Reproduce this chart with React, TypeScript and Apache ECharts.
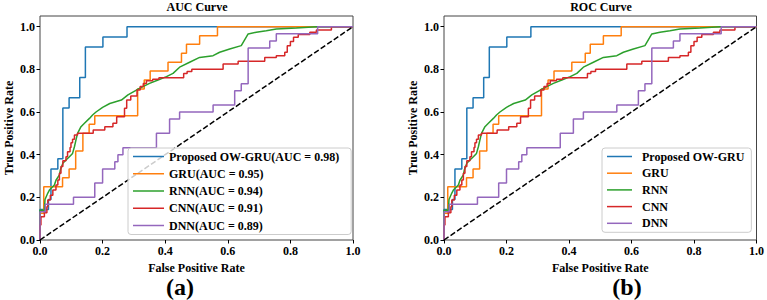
import { useEffect, useRef } from "react";
import * as echarts from "echarts";

// Models, their AUC scores and tick positions
const modelNames = ["Proposed OW-GRU", "GRU", "RNN", "CNN", "DNN"];
const aucScores = [0.98, 0.95, 0.94, 0.91, 0.89];
const tickValues = [0, 0.2, 0.4, 0.6, 0.8, 1.0];

// ROC points (false positive rate / true positive rate) per model
const owGruFpr = [0, 0, 0.027, 0.027, 0.035, 0.035, 0.057, 0.057, 0.073, 0.073, 0.093, 0.093, 0.127, 0.127, 0.145, 0.145, 0.201, 0.201, 0.278, 0.278, 1.0];
const owGruTpr = [0, 0.143, 0.143, 0.19, 0.19, 0.333, 0.333, 0.381, 0.381, 0.619, 0.619, 0.667, 0.667, 0.762, 0.762, 0.905, 0.905, 0.952, 0.952, 1.0, 1.0];

const gruFpr = [0, 0, 0.012, 0.012, 0.072, 0.072, 0.093, 0.093, 0.114, 0.114, 0.137, 0.137, 0.157, 0.157, 0.175, 0.175, 0.312, 0.312, 0.333, 0.333, 0.352, 0.352, 0.409, 0.409, 0.452, 0.452, 0.468, 0.468, 0.51, 0.51, 0.567, 0.567, 1.0];
const gruTpr = [0, 0.125, 0.125, 0.25, 0.25, 0.292, 0.292, 0.333, 0.333, 0.417, 0.417, 0.5, 0.5, 0.542, 0.542, 0.583, 0.583, 0.708, 0.708, 0.75, 0.75, 0.792, 0.792, 0.833, 0.833, 0.875, 0.875, 0.917, 0.917, 0.958, 0.958, 1.0, 1.0];

const rnnFpr = [0, 0, 0.014, 0.016, 0.025, 0.03, 0.046, 0.051, 0.062, 0.065, 0.073, 0.083, 0.094, 0.104, 0.11, 0.115, 0.12, 0.131, 0.142, 0.158, 0.168, 0.179, 0.2, 0.223, 0.26, 0.281, 0.308, 0.329, 0.35, 0.377, 0.404, 0.425, 0.446, 0.478, 0.51, 0.553, 0.574, 0.606, 0.643, 0.665, 0.691, 0.723, 0.755, 0.819, 0.883, 1.0];
const rnnTpr = [0, 0.14, 0.14, 0.19, 0.22, 0.234, 0.258, 0.28, 0.305, 0.328, 0.36, 0.375, 0.39, 0.406, 0.437, 0.469, 0.5, 0.531, 0.547, 0.57, 0.586, 0.6, 0.622, 0.64, 0.656, 0.68, 0.703, 0.719, 0.734, 0.75, 0.766, 0.781, 0.81, 0.833, 0.856, 0.864, 0.88, 0.895, 0.911, 0.966, 0.974, 0.981, 0.989, 0.994, 1.0, 1.0];

const cnnFpr = [0, 0, 0.003, 0.003, 0.014, 0.014, 0.022, 0.022, 0.025, 0.025, 0.033, 0.033, 0.041, 0.041, 0.051, 0.051, 0.057, 0.057, 0.062, 0.062, 0.067, 0.067, 0.073, 0.073, 0.083, 0.083, 0.088, 0.088, 0.096, 0.096, 0.099, 0.099, 0.104, 0.104, 0.11, 0.11, 0.12, 0.12, 0.17, 0.17, 0.207, 0.207, 0.233, 0.233, 0.245, 0.245, 0.27, 0.27, 0.277, 0.277, 0.29, 0.29, 0.31, 0.31, 0.32, 0.32, 0.33, 0.33, 0.34, 0.34, 0.36, 0.36, 0.38, 0.38, 0.459, 0.459, 0.47, 0.47, 0.485, 0.485, 0.585, 0.585, 0.633, 0.633, 0.718, 0.718, 0.755, 0.755, 0.782, 0.782, 0.79, 0.79, 0.8, 0.8, 0.81, 0.81, 0.825, 0.825, 0.862, 0.862, 0.883, 0.883, 0.931, 0.931, 1.0];
const cnnTpr = [0, 0.07, 0.07, 0.109, 0.109, 0.128, 0.128, 0.156, 0.156, 0.188, 0.188, 0.21, 0.21, 0.234, 0.234, 0.258, 0.258, 0.281, 0.281, 0.313, 0.313, 0.344, 0.344, 0.372, 0.372, 0.39, 0.39, 0.414, 0.414, 0.434, 0.434, 0.456, 0.456, 0.472, 0.472, 0.492, 0.492, 0.5, 0.5, 0.516, 0.516, 0.531, 0.531, 0.547, 0.547, 0.578, 0.578, 0.617, 0.617, 0.656, 0.656, 0.675, 0.675, 0.703, 0.703, 0.72, 0.72, 0.734, 0.734, 0.747, 0.747, 0.753, 0.753, 0.76, 0.76, 0.78, 0.78, 0.79, 0.79, 0.8, 0.8, 0.825, 0.825, 0.838, 0.838, 0.856, 0.856, 0.864, 0.864, 0.88, 0.88, 0.91, 0.91, 0.93, 0.93, 0.95, 0.95, 0.963, 0.963, 0.974, 0.974, 0.984, 0.984, 1.0, 1.0];

const dnnFpr = [0, 0, 0.017, 0.017, 0.107, 0.107, 0.175, 0.175, 0.2, 0.2, 0.239, 0.239, 0.249, 0.249, 0.265, 0.265, 0.372, 0.372, 0.414, 0.414, 0.446, 0.446, 0.553, 0.553, 0.622, 0.622, 0.643, 0.643, 0.665, 0.665, 0.734, 0.734, 0.755, 0.755, 0.887, 0.887, 1.0];
const dnnTpr = [0, 0.133, 0.133, 0.167, 0.167, 0.2, 0.2, 0.267, 0.267, 0.333, 0.333, 0.367, 0.367, 0.4, 0.4, 0.433, 0.433, 0.5, 0.5, 0.567, 0.567, 0.6, 0.6, 0.633, 0.633, 0.7, 0.7, 0.733, 0.733, 0.9, 0.9, 0.933, 0.933, 0.967, 0.967, 1.0, 1.0];

// Chance line
const chanceFpr = [0, 1];
const chanceTpr = [0, 1];

const modelFpr = [owGruFpr, gruFpr, rnnFpr, cnnFpr, dnnFpr];
const modelTpr = [owGruTpr, gruTpr, rnnTpr, cnnTpr, dnnTpr];

const lineColors = ["#1f77b4", "#ff7f0e", "#2ca02c", "#d62728", "#9467bd"];
const SERIF = '"Liberation Serif", "Times New Roman", serif';

const zip = (xs: number[], ys: number[]) => xs.map((x, i) => [x, ys[i]]);

const labelFont = {
  fontFamily: SERIF,
  fontWeight: "bold" as const,
  fontSize: 12,
  color: "#000",
};

function xAxisFor(gridIndex: number) {
  return {
    type: "value" as const,
    gridIndex,
    min: 0,
    max: 1,
    interval: 0.2,
    name: "False Positive Rate",
    nameLocation: "middle" as const,
    nameGap: 16,
    nameTextStyle: labelFont,
    axisLine: { show: false },
    axisTick: { show: true, length: 3.5, lineStyle: { color: "#000", width: 1 } },
    axisLabel: { ...labelFont, margin: 5, formatter: (v: number) => v.toFixed(1) },
    splitLine: { show: false },
  };
}

function yAxisFor(gridIndex: number) {
  return {
    type: "value" as const,
    gridIndex,
    min: 0,
    max: 1.05,
    interval: 0.2,
    name: "True Positive Rate",
    nameLocation: "middle" as const,
    nameGap: 25,
    nameTextStyle: labelFont,
    axisLine: { show: false },
    axisTick: {
      show: true,
      length: 3.5,
      customValues: tickValues,
      lineStyle: { color: "#000", width: 1 },
    },
    axisLabel: {
      ...labelFont,
      margin: 5,
      customValues: tickValues,
      formatter: (v: number) => v.toFixed(1),
    },
    splitLine: { show: false },
  };
}

function seriesFor(gridIndex: number, names: string[]) {
  const curves = names.map((name, i) => ({
    type: "line" as const,
    name,
    xAxisIndex: gridIndex,
    yAxisIndex: gridIndex,
    data: zip(modelFpr[i], modelTpr[i]),
    symbol: "none",
    color: lineColors[i],
    lineStyle: { color: lineColors[i], width: 1.5 },
    z: 2 + i,
    silent: true,
  }));
  const chance = {
    type: "line" as const,
    name: "chance-" + gridIndex,
    xAxisIndex: gridIndex,
    yAxisIndex: gridIndex,
    data: zip(chanceFpr, chanceTpr),
    symbol: "none",
    lineStyle: { color: "#000", width: 1.5, type: [5.5, 2.4] },
    z: 10,
    silent: true,
  };
  return [...curves, chance];
}

function legendFor(
  names: string[],
  left: number,
  itemWidth: number,
  itemGap: number,
  textGap: number,
  padRight: number
) {
  return {
    show: true,
    orient: "vertical" as const,
    left,
    top: 148,
    data: names,
    icon: "rect",
    itemWidth,
    itemHeight: 1.5,
    itemGap,
    padding: [1.5, padRight, 2, 5],
    backgroundColor: "rgba(255,255,255,0.8)",
    borderColor: "#cccccc",
    borderWidth: 1,
    borderRadius: 3,
    selectedMode: false,
    z: 20,
    textStyle: { ...labelFont, lineHeight: 14, padding: [0, 0, 0, textGap] },
  };
}

export default function App() {
  const ref = useRef<HTMLDivElement>(null);

  useEffect(() => {
    if (!ref.current) return;
    const chart = echarts.init(ref.current, undefined, { renderer: "svg" });

    const leftNames = modelNames.map((n, i) => `${n}(AUC = ${aucScores[i].toFixed(2)})`);
    const rightNames = modelNames.slice();

    chart.setOption({
      animation: false,
      backgroundColor: "#fff",
      grid: [
        { left: 40, top: 16, width: 313, height: 224, show: true, borderColor: "#444", borderWidth: 1, backgroundColor: "transparent" },
        { left: 444, top: 16, width: 314, height: 224, show: true, borderColor: "#444", borderWidth: 1, backgroundColor: "transparent" },
      ],
      xAxis: [xAxisFor(0), xAxisFor(1)],
      yAxis: [yAxisFor(0), yAxisFor(1)],
      legend: [
        legendFor(leftNames, 128, 31, 3.25, 0, 12),
        legendFor(rightNames, 602, 25, 2.7, 5, 7),
      ],
      series: [...seriesFor(0, leftNames), ...seriesFor(1, rightNames)],
      graphic: [
        {
          type: "text",
          x: 197,
          y: 7,
          style: { text: "AUC Curve", ...labelFont, fill: "#000", align: "center", verticalAlign: "middle" },
        },
        {
          type: "text",
          x: 601,
          y: 7,
          style: { text: "ROC Curve", ...labelFont, fill: "#000", align: "center", verticalAlign: "middle" },
        },
        {
          type: "text",
          x: 180,
          y: 287,
          style: { text: "(a)", fontFamily: SERIF, fontWeight: "bold", fontSize: 24, lineHeight: 24, fill: "#000", align: "center", verticalAlign: "middle" },
        },
        {
          type: "text",
          x: 627,
          y: 287,
          style: { text: "(b)", fontFamily: SERIF, fontWeight: "bold", fontSize: 24, lineHeight: 24, fill: "#000", align: "center", verticalAlign: "middle" },
        },
      ],
    });

    return () => chart.dispose();
  }, []);

  return (
    <div
      ref={ref}
      style={{ position: "fixed", left: 0, top: 0, width: 767, height: 300, background: "#fff" }}
    />
  );
}
